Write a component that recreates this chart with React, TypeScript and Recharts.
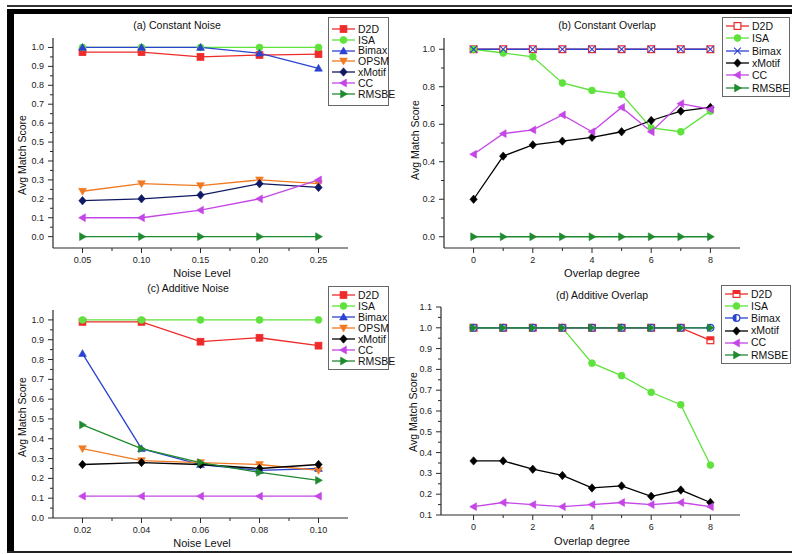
import React from 'react';
import { LineChart, Line, XAxis, YAxis, Legend } from 'recharts';

// (a) Constant Noise
const noiseA = [0.05, 0.1, 0.15, 0.2, 0.25];
const d2dA = [0.975, 0.975, 0.95, 0.96, 0.965];
const isaA = [1, 1, 1, 1, 1];
const bimaxA = [1, 1, 1, 0.97, 0.89];
const opsmA = [0.24, 0.28, 0.27, 0.3, 0.28];
const xmotifA = [0.19, 0.2, 0.22, 0.28, 0.26];
const ccA = [0.1, 0.1, 0.14, 0.2, 0.3];
const rmsbeA = [0, 0, 0, 0, 0];

// (b) Constant Overlap
const overlapB = [0, 1, 2, 3, 4, 5, 6, 7, 8];
const d2dB = [1, 1, 1, 1, 1, 1, 1, 1, 1];
const isaB = [1, 0.98, 0.96, 0.82, 0.78, 0.76, 0.58, 0.56, 0.67];
const bimaxB = [1, 1, 1, 1, 1, 1, 1, 1, 1];
const xmotifB = [0.2, 0.43, 0.49, 0.51, 0.53, 0.56, 0.62, 0.67, 0.69];
const ccB = [0.44, 0.55, 0.57, 0.65, 0.56, 0.69, 0.56, 0.71, 0.68];
const rmsbeB = [0, 0, 0, 0, 0, 0, 0, 0, 0];

// (c) Additive Noise
const noiseC = [0.02, 0.04, 0.06, 0.08, 0.1];
const d2dC = [0.99, 0.99, 0.89, 0.91, 0.87];
const isaC = [1, 1, 1, 1, 1];
const bimaxC = [0.83, 0.35, 0.27, 0.24, 0.25];
const opsmC = [0.35, 0.29, 0.28, 0.27, 0.24];
const xmotifC = [0.27, 0.28, 0.27, 0.25, 0.27];
const ccC = [0.11, 0.11, 0.11, 0.11, 0.11];
const rmsbeC = [0.47, 0.35, 0.28, 0.23, 0.19];

// (d) Additive Overlap
const overlapD = [0, 1, 2, 3, 4, 5, 6, 7, 8];
const d2dD = [1, 1, 1, 1, 1, 1, 1, 1, 0.94];
const isaD = [1, 1, 1, 1, 0.83, 0.77, 0.69, 0.63, 0.34];
const bimaxD = [1, 1, 1, 1, 1, 1, 1, 1, 1];
const xmotifD = [0.36, 0.36, 0.32, 0.29, 0.23, 0.24, 0.19, 0.22, 0.16];
const ccD = [0.14, 0.16, 0.15, 0.14, 0.15, 0.16, 0.15, 0.16, 0.14];
const rmsbeD = [1, 1, 1, 1, 1, 1, 1, 1, 1];

// tick labels
const yMajorNoise = [0, 0.1, 0.2, 0.3, 0.4, 0.5, 0.6, 0.7, 0.8, 0.9, 1.0];
const yMinorNoise = [0.05, 0.15, 0.25, 0.35, 0.45, 0.55, 0.65, 0.75, 0.85, 0.95];
const xMajorA = [0.05, 0.1, 0.15, 0.2, 0.25];
const xMinorA = [0.075, 0.125, 0.175, 0.225];
const xMajorC = [0.02, 0.04, 0.06, 0.08, 0.1];
const xMinorC = [0.03, 0.05, 0.07, 0.09];
const xMajorOverlap = [0, 2, 4, 6, 8];
const xMinorOverlap = [1, 3, 5, 7];
const yMajorB = [0, 0.2, 0.4, 0.6, 0.8, 1.0];
const yMinorB = [0.1, 0.3, 0.5, 0.7, 0.9];
const yMajorD = [0.1, 0.2, 0.3, 0.4, 0.5, 0.6, 0.7, 0.8, 0.9, 1.0, 1.1];
const yMinorD = [0.15, 0.25, 0.35, 0.45, 0.55, 0.65, 0.75, 0.85, 0.95, 1.05];

const FONT = '"Liberation Sans", Arial, sans-serif';
const AXIS = '#2a2a2a';
const TS = 5;
const TM = 3;

const RED = '#ee2a2a';
const LGREEN = '#5fe23c';
const BLUE = '#2b43d0';
const ORANGE = '#f07a22';
const NAVY = '#0f1a62';
const BLACK = '#000000';
const PURPLE = '#c546e6';
const DGREEN = '#1f8a2e';

type Shape =
  | 'square' | 'squareOpen' | 'squareHalf' | 'circle' | 'circleHalf' | 'triUp'
  | 'triDown' | 'diamond' | 'triLeft' | 'triRight' | 'cross';

type Series = { key: string; values: number[]; color: string; shape: Shape };

function Marker({ cx, cy, shape, color }: { cx: number; cy: number; shape: Shape; color: string }) {
  const s = 3.4;
  if (cx == null || cy == null) return null;
  switch (shape) {
    case 'square':
      return <rect x={cx - s} y={cy - s} width={2 * s} height={2 * s} fill={color} stroke={color} strokeWidth={0.8} />;
    case 'squareOpen':
      return <rect x={cx - s} y={cy - s} width={2 * s} height={2 * s} fill="#fff" stroke={color} strokeWidth={1.2} />;
    case 'squareHalf':
      return (
        <g>
          <rect x={cx - s} y={cy - s} width={2 * s} height={2 * s} fill="#fff" stroke={color} strokeWidth={1.2} />
          <rect x={cx - s} y={cy - s} width={2 * s} height={s} fill={color} />
        </g>
      );
    case 'circle':
      return <circle cx={cx} cy={cy} r={s} fill={color} stroke={color} strokeWidth={0.8} />;
    case 'circleHalf':
      return (
        <g>
          <circle cx={cx} cy={cy} r={s} fill="#fff" stroke={color} strokeWidth={1.2} />
          <path d={`M${cx},${cy - s} A${s},${s} 0 0 0 ${cx},${cy + s} Z`} fill={color} />
        </g>
      );
    case 'triUp':
      return <polygon points={`${cx},${cy - s - 0.5} ${cx + s + 0.5},${cy + s - 0.5} ${cx - s - 0.5},${cy + s - 0.5}`} fill={color} stroke={color} strokeWidth={0.6} />;
    case 'triDown':
      return <polygon points={`${cx},${cy + s + 0.5} ${cx + s + 0.5},${cy - s + 0.5} ${cx - s - 0.5},${cy - s + 0.5}`} fill={color} stroke={color} strokeWidth={0.6} />;
    case 'triLeft':
      return <polygon points={`${cx - s - 0.5},${cy} ${cx + s - 0.5},${cy - s - 0.5} ${cx + s - 0.5},${cy + s + 0.5}`} fill={color} stroke={color} strokeWidth={0.6} />;
    case 'triRight':
      return <polygon points={`${cx + s + 0.5},${cy} ${cx - s + 0.5},${cy - s - 0.5} ${cx - s + 0.5},${cy + s + 0.5}`} fill={color} stroke={color} strokeWidth={0.6} />;
    case 'diamond':
      return <polygon points={`${cx},${cy - s - 0.8} ${cx + s + 0.3},${cy} ${cx},${cy + s + 0.8} ${cx - s - 0.3},${cy}`} fill={color} stroke={color} strokeWidth={0.6} />;
    case 'cross':
      return (
        <g stroke={color} strokeWidth={1.1}>
          <line x1={cx - s} y1={cy - s} x2={cx + s} y2={cy + s} />
          <line x1={cx - s} y1={cy + s} x2={cx + s} y2={cy - s} />
        </g>
      );
  }
  return null;
}

const dotFor = (shape: Shape, color: string) => (p: any) =>
  <Marker key={`m-${p.index}`} cx={p.cx} cy={p.cy} shape={shape} color={color} />;

function makeTick(side: 'left' | 'bottom', majors: number[], digits: number) {
  return (p: any) => {
    const v = Number(p.payload.value);
    const major = majors.some((m) => Math.abs(m - v) < 1e-6);
    const len = major ? 5 : 3;
    if (side === 'left') {
      const ax = p.x + TS + TM;
      return (
        <g>
          <line x1={ax - len} x2={ax} y1={p.y} y2={p.y} stroke={AXIS} strokeWidth={1} />
          {major && (
            <text x={ax - 9} y={p.y + 3} textAnchor="end" fontSize={9} fill="#222" fontFamily={FONT}>
              {v.toFixed(digits)}
            </text>
          )}
        </g>
      );
    }
    const ay = p.y - TS - TM;
    return (
      <g>
        <line x1={p.x} x2={p.x} y1={ay} y2={ay + len} stroke={AXIS} strokeWidth={1} />
        {major && (
          <text x={p.x} y={ay + 15} textAnchor="middle" fontSize={9} fill="#222" fontFamily={FONT}>
            {v.toFixed(digits)}
          </text>
        )}
      </g>
    );
  };
}

function LegendBox({ series, w, h, pad }: { series: Series[]; w: number; h: number; pad: number }) {
  const rowH = (h - 2 * pad) / series.length;
  return (
    <div
      style={{
        width: w, height: h, boxSizing: 'border-box', border: '1px solid #666', background: '#fff',
        paddingTop: pad - 1, fontFamily: FONT,
      }}
    >
      {series.map((s) => (
        <div key={s.key} style={{ height: rowH, display: 'flex', alignItems: 'center' }}>
          <svg width={28} height={10} style={{ flex: 'none' }}>
            <line x1={3} x2={26} y1={5} y2={5} stroke={s.color} strokeWidth={1.3} />
            <Marker cx={14.5} cy={5} shape={s.shape} color={s.color} />
          </svg>
          <span style={{ fontSize: 10.5, color: '#111', marginLeft: 1, lineHeight: 1 }}>{s.key}</span>
        </div>
      ))}
    </div>
  );
}

type PanelProps = {
  left: number; top: number; width: number; height: number;
  plot: { x0: number; x1: number; y0: number; y1: number };
  xs: number[]; series: Series[];
  xDomain: [number, number]; yDomain: [number, number];
  xMajor: number[]; xMinor: number[]; xDigits: number;
  yMajor: number[]; yMinor: number[]; yDigits: number;
  legend: { left: number; top: number; w: number; h: number; pad: number };
};

function Panel(p: PanelProps) {
  const rows = p.xs.map((x, i) => {
    const r: Record<string, number> = { x };
    p.series.forEach((s) => { r[s.key] = s.values[i]; });
    return r;
  });
  const yw = 40;
  const xh = 20;
  const margin = {
    top: p.plot.y0 - p.top,
    left: p.plot.x0 - p.left - yw,
    right: p.left + p.width - p.plot.x1,
    bottom: p.top + p.height - p.plot.y1 - xh,
  };
  return (
    <div style={{ position: 'absolute', left: p.left, top: p.top }}>
      <LineChart width={p.width} height={p.height} data={rows} margin={margin}>
        <XAxis
          dataKey="x" type="number" domain={p.xDomain} ticks={[...p.xMajor, ...p.xMinor].sort((a, b) => a - b)}
          interval={0} height={xh} tickSize={TS} tickMargin={TM} tickLine={false}
          axisLine={{ stroke: AXIS, strokeWidth: 1.2 }} tick={makeTick('bottom', p.xMajor, p.xDigits)}
        />
        <YAxis
          type="number" domain={p.yDomain} ticks={[...p.yMajor, ...p.yMinor].sort((a, b) => a - b)}
          interval={0} width={yw} tickSize={TS} tickMargin={TM} tickLine={false}
          axisLine={{ stroke: AXIS, strokeWidth: 1.2 }} tick={makeTick('left', p.yMajor, p.yDigits)}
        />
        <Legend
          layout="vertical" align="center" verticalAlign="middle"
          wrapperStyle={{ left: p.legend.left, top: p.legend.top, width: p.legend.w, height: p.legend.h }}
          content={() => <LegendBox series={p.series} w={p.legend.w} h={p.legend.h} pad={p.legend.pad} />}
        />
        {p.series.map((s) => (
          <Line
            key={s.key} dataKey={s.key} type="linear" stroke={s.color} strokeWidth={1.3}
            dot={dotFor(s.shape, s.color)} activeDot={false} isAnimationActive={false}
          />
        ))}
      </LineChart>
    </div>
  );
}

function Txt({ x, y, children, size = 10.5, rotate = false }: { x: number; y: number; children: React.ReactNode; size?: number; rotate?: boolean }) {
  return (
    <div
      style={{
        position: 'absolute', left: x, top: y, whiteSpace: 'nowrap', fontSize: size, color: '#111',
        fontFamily: FONT, lineHeight: 1,
        transform: rotate ? 'translate(-50%,-50%) rotate(-90deg)' : 'translate(-50%,-50%)',
      }}
    >
      {children}
    </div>
  );
}

export default function App() {
  const seriesA: Series[] = [
    { key: 'D2D', values: d2dA, color: RED, shape: 'square' },
    { key: 'ISA', values: isaA, color: LGREEN, shape: 'circle' },
    { key: 'Bimax', values: bimaxA, color: BLUE, shape: 'triUp' },
    { key: 'OPSM', values: opsmA, color: ORANGE, shape: 'triDown' },
    { key: 'xMotif', values: xmotifA, color: NAVY, shape: 'diamond' },
    { key: 'CC', values: ccA, color: PURPLE, shape: 'triLeft' },
    { key: 'RMSBE', values: rmsbeA, color: DGREEN, shape: 'triRight' },
  ];
  const seriesB: Series[] = [
    { key: 'D2D', values: d2dB, color: RED, shape: 'squareOpen' },
    { key: 'ISA', values: isaB, color: LGREEN, shape: 'circle' },
    { key: 'Bimax', values: bimaxB, color: BLUE, shape: 'cross' },
    { key: 'xMotif', values: xmotifB, color: BLACK, shape: 'diamond' },
    { key: 'CC', values: ccB, color: PURPLE, shape: 'triLeft' },
    { key: 'RMSBE', values: rmsbeB, color: DGREEN, shape: 'triRight' },
  ];
  const seriesC: Series[] = [
    { key: 'D2D', values: d2dC, color: RED, shape: 'square' },
    { key: 'ISA', values: isaC, color: LGREEN, shape: 'circle' },
    { key: 'Bimax', values: bimaxC, color: BLUE, shape: 'triUp' },
    { key: 'OPSM', values: opsmC, color: ORANGE, shape: 'triDown' },
    { key: 'xMotif', values: xmotifC, color: BLACK, shape: 'diamond' },
    { key: 'CC', values: ccC, color: PURPLE, shape: 'triLeft' },
    { key: 'RMSBE', values: rmsbeC, color: DGREEN, shape: 'triRight' },
  ];
  const seriesD: Series[] = [
    { key: 'D2D', values: d2dD, color: RED, shape: 'squareHalf' },
    { key: 'ISA', values: isaD, color: LGREEN, shape: 'circle' },
    { key: 'Bimax', values: bimaxD, color: BLUE, shape: 'circleHalf' },
    { key: 'xMotif', values: xmotifD, color: BLACK, shape: 'diamond' },
    { key: 'CC', values: ccD, color: PURPLE, shape: 'triLeft' },
    { key: 'RMSBE', values: rmsbeD, color: DGREEN, shape: 'triRight' },
  ];

  return (
    <div style={{ position: 'absolute', left: 0, top: 0, width: 792, height: 554, background: '#fff', overflow: 'hidden', fontFamily: FONT }}>
      {/* frame */}
      <div style={{ position: 'absolute', left: 7, top: 5, width: 785, height: 1.5, background: '#333' }} />
      <div style={{ position: 'absolute', left: 7, top: 9, width: 785, height: 5, background: '#000' }} />
      <div style={{ position: 'absolute', left: 7, top: 9, width: 7, height: 544, background: '#000' }} />
      <div style={{ position: 'absolute', left: 7, top: 551, width: 785, height: 1.5, background: '#222' }} />

      <Panel
        left={0} top={0} width={400} height={270}
        plot={{ x0: 53, x1: 348, y0: 38, y1: 248 }}
        xs={noiseA} series={seriesA} xDomain={[0.025, 0.275]} yDomain={[-0.06, 1.05]}
        xMajor={xMajorA} xMinor={xMinorA} xDigits={2} yMajor={yMajorNoise} yMinor={yMinorNoise} yDigits={1}
        legend={{ left: 328, top: 17, w: 61, h: 89, pad: 6.5 }}
      />
      <Panel
        left={400} top={0} width={392} height={270}
        plot={{ x0: 444, x1: 740, y0: 38, y1: 248 }}
        xs={overlapB} series={seriesB} xDomain={[-1, 9]} yDomain={[-0.06, 1.06]}
        xMajor={xMajorOverlap} xMinor={xMinorOverlap} xDigits={0} yMajor={yMajorB} yMinor={yMinorB} yDigits={1}
        legend={{ left: 322, top: 17, w: 68, h: 80, pad: 3 }}
      />
      <Panel
        left={0} top={270} width={400} height={284}
        plot={{ x0: 53, x1: 348, y0: 310, y1: 518 }}
        xs={noiseC} series={seriesC} xDomain={[0.01, 0.11]} yDomain={[0, 1.05]}
        xMajor={xMajorC} xMinor={xMinorC} xDigits={2} yMajor={yMajorNoise} yMinor={yMinorNoise} yDigits={1}
        legend={{ left: 328, top: 16, w: 61, h: 84, pad: 3.5 }}
      />
      <Panel
        left={400} top={270} width={392} height={284}
        plot={{ x0: 441, x1: 740, y0: 307, y1: 515 }}
        xs={overlapD} series={seriesD} xDomain={[-1.1, 9]} yDomain={[0.1, 1.1]}
        xMajor={xMajorOverlap} xMinor={xMinorOverlap} xDigits={0} yMajor={yMajorD} yMinor={yMinorD} yDigits={1}
        legend={{ left: 321, top: 15, w: 70, h: 79, pad: 3 }}
      />

      <Txt x={177} y={25}>(a) Constant Noise</Txt>
      <Txt x={607} y={25}>(b) Constant Overlap</Txt>
      <Txt x={188} y={288}>(c) Additive Noise</Txt>
      <Txt x={602} y={295}>(d) Additive Overlap</Txt>

      <Txt x={202} y={273} size={11}>Noise Level</Txt>
      <Txt x={602} y={273} size={11}>Overlap degree</Txt>
      <Txt x={202} y={543} size={11}>Noise Level</Txt>
      <Txt x={592} y={541} size={11}>Overlap degree</Txt>

      <Txt x={22} y={155} size={10.5} rotate>Avg Match Score</Txt>
      <Txt x={415} y={140} size={10.5} rotate>Avg Match Score</Txt>
      <Txt x={22} y={417} size={10.5} rotate>Avg Match Score</Txt>
      <Txt x={413} y={412} size={10.5} rotate>Avg Match Score</Txt>
    </div>
  );
}
